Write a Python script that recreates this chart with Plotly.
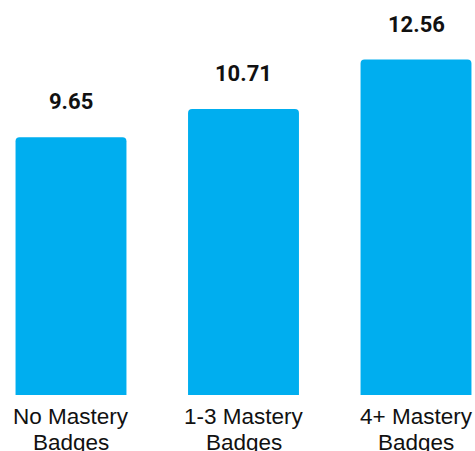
import plotly.graph_objects as go

categories = ["No Mastery<br>Badges", "1-3 Mastery<br>Badges", "4+ Mastery<br>Badges"]
values = [9.65, 10.71, 12.56]
value_labels = ["9.65", "10.71", "12.56"]

BAR_COLOR = "#00AEEF"
TEXT_COLOR = "#111111"

fig = go.Figure()
fig.add_trace(go.Bar(
    x=list(range(len(categories))),
    y=values,
    width=0.643,
    marker=dict(color=BAR_COLOR, line=dict(width=0)),
    hoverinfo="skip",
))

# value labels above each bar
for i, (v, lab) in enumerate(zip(values, value_labels)):
    fig.add_annotation(
        x=i, y=v, text=f"<b>{lab}</b>", showarrow=False,
        xanchor="center", yanchor="bottom", yshift=21,
        font=dict(family="Roboto", size=22, color=TEXT_COLOR),
    )

# category labels under the bars, one annotation per line for tighter leading
line_offsets = [-21, -47]
for i, cat in enumerate(categories):
    for line, dy in zip(cat.split("<br>"), line_offsets):
        fig.add_annotation(
            x=i, xref="x", y=0, yref="paper", text=line, showarrow=False,
            xanchor="center", yanchor="middle", yshift=dy,
            font=dict(family="Liberation Sans", size=22.5, color=TEXT_COLOR),
        )

fig.update_layout(
    width=475, height=451,
    margin=dict(l=0, r=0, t=0, b=56),
    paper_bgcolor="white", plot_bgcolor="white",
    showlegend=False,
    barcornerradius=4,
    xaxis=dict(
        range=[-0.4116, 2.342],
        showticklabels=False,
        showgrid=False, zeroline=False, showline=False, ticks="",
    ),
    yaxis=dict(
        range=[0, 14.79],
        visible=False, showgrid=False, zeroline=False,
    ),
)

fig.write_html("out.html")
